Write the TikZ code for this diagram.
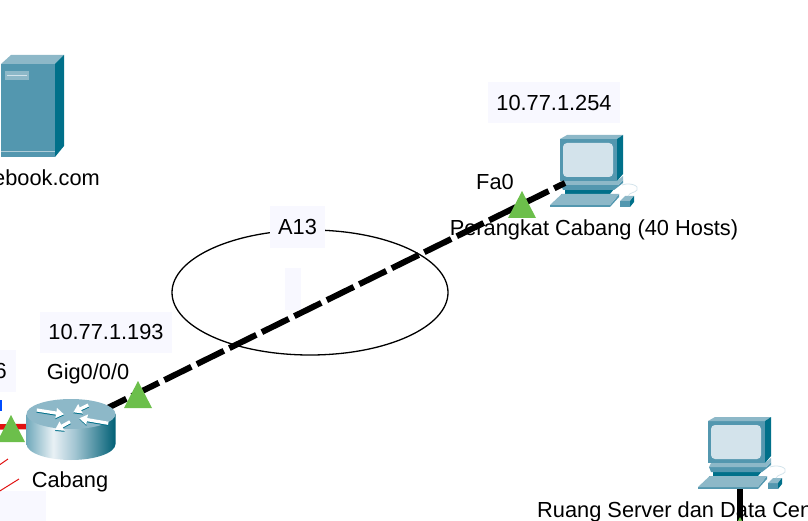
\documentclass[tikz,border=0pt]{standalone}
\usepackage{fontspec}
\setmainfont{Liberation Sans}
\usepackage{tikz}
\usetikzlibrary{calc, arrows.meta, shapes.geometric}

\definecolor{boxTint}{HTML}{F8F8FF}
\definecolor{linkGreen}{HTML}{6CBF4B}
\definecolor{linkRed}{HTML}{E01010}
\definecolor{caseMid}{HTML}{5397AF}
\definecolor{caseDark}{HTML}{00708A}
\definecolor{caseLight}{HTML}{8DB8C8}
\definecolor{screenTint}{HTML}{D3E3EB}

\pgfdeclarehorizontalshading{routerSide}{100bp}{
	color(0bp)=(caseLight!80!caseDark); color(25bp)=(caseLight!80!caseDark); color(40bp)=(screenTint!50!white);
	color(52bp)=(caseLight!80!white); color(75bp)=(caseDark!85!black); color(100bp)=(caseDark)}

\tikzset{
	devLabel/.style = {font = \fontsize{21.8}{24}\selectfont, inner sep = 0pt, text = black},
	ipBox/.style = {devLabel, fill = boxTint, minimum height = 41pt},
	ipLink/.style = {black, line width = 6pt, dash pattern = on 30pt off 6.2pt, dash phase = 4.5pt},
	plainLink/.style = {black, line width = 5.5pt},
	routerArrow/.style = {line width = 3.2pt, -{Triangle[length = 8pt, width = 10pt]}}
}

\begin{document}
\begin{tikzpicture}[x = 1pt, y = -1pt]
	\useasboundingbox (0,0) rectangle (808,521);

	\newcommand{\drawLinkLight}[2]
	{
		\fill [linkGreen] (#1,#2) -- ++(14,27) -- ++(-28,0) -- cycle;
	}

	% local origin is the top left corner of the monitor front
	\newcommand{\drawComputer}[2]
	{
		\begin{scope}[shift = {(#1,#2)}]
			\fill [caseDark] (5,50) -- (54,50) -- (50,55) -- (5,55) -- cycle;
			\fill [caseMid] (1,46) -- (58,46) -- (63,41) -- (63,44) -- (54,51) -- (3,51) -- cycle;
			\fill [caseLight] (1,46) -- (3,42) -- (57,42) -- (63,37) -- (63,41) -- (58,46) -- cycle;
			\fill [caseDark] (1,55) rectangle (50,56);
			\fill [caseMid] (-10,66) rectangle (50,68);
			\fill [caseMid] (50,68) -- (59,58) -- (59,55) -- (50,66) -- cycle;
			\fill [caseLight] (-10,66) -- (1.7,55) -- (59,55) -- (50,66) -- cycle;
			\fill [caseMid] (60,62) rectangle (70,68);
			\fill [caseLight] (60,62) -- (65,57) -- (74,57) -- (70,62) -- cycle;
			\fill [caseDark] (70,62) -- (74,57) -- (74,63) -- (70,68) -- cycle;
			\draw [screenTint, line width = 0.8pt] (62,46) .. controls (70,43) and (80,47) .. (77,51) .. controls (75,54) and (70,53) .. (68,57);
			\fill [caseMid] (0,0) rectangle (57,42);
			\fill [caseLight] (0,0) -- (7,-4) -- (63,-4) -- (57,0) -- cycle;
			\fill [caseDark] (57,0) -- (63,-4) -- (63,35) -- (57,42) -- cycle;
			\fill [screenTint, rounded corners = 4pt] (3,4) rectangle (53,38);
		\end{scope}
	}

	\begin{scope}
		\coordinate (cabang) at (71,426);
		\coordinate (perangkat) at (565,183);
		\coordinate (serverRoom) at (740,472);
		\coordinate (serverRoomEnd) at (740,530);
		\coordinate (redWest) at (-5,427);
		\coordinate (redA) at (-5,468);
		\coordinate (redB) at (8,459);
		\coordinate (redC) at (-5,494);
		\coordinate (redD) at (19,479);
	\end{scope}

	% shaded boxes
	\fill [boxTint] (0,350) rectangle (16,392);
	\fill [boxTint] (285,268) rectangle (301,310);
	\fill [boxTint] (0,491) rectangle (46,521);
	\fill [blue!70!cyan] (0,400) rectangle (1.5,411);

	\node [draw, black, line width = 1.3pt, ellipse, minimum width = 276pt, minimum height = 125pt, inner sep = 0pt] (areaLink) at (310,292.5) {};

	% server
	\begin{scope}
		\fill [caseMid] (1,64) rectangle (55,157);
		\fill [caseLight] (1,64) -- (11,55) -- (64,55) -- (55,64) -- cycle;
		\fill [caseDark] (55,64) -- (64,55) -- (64,146) -- (55,157) -- cycle;
		\fill [caseLight] (5,71) rectangle (29,80);
		\draw [caseLight!70!white, line width = 0.5pt] (1,151) -- (55,151);
		\draw [screenTint, line width = 0.5pt] (7,75) -- (27,75);
	\end{scope}

	\drawComputer{560}{139}

	% links
	\draw [ipLink] (cabang) -- (perangkat);
	\draw [plainLink] (serverRoom) -- (serverRoomEnd);
	\draw [linkRed, line width = 5.5pt] (redWest) -- (cabang);
	\draw [linkRed, line width = 1pt] (redA) -- (redB);
	\draw [linkRed, line width = 1pt] (redC) -- (redD);
	\drawLinkLight{138}{381}
	\drawLinkLight{522}{191}
	\drawLinkLight{11}{415}
	\drawLinkLight{740}{517}

	% router
	\begin{scope}[shift = {(cabang)}]
		\shade [shading = routerSide] (-44.5,-12) -- (-44.5,18) arc [start angle = 180, end angle = 0, x radius = 44.5, y radius = 16] -- (44.5,-12) -- cycle;
		\fill [caseLight] (0,-12) ellipse [x radius = 44.5, y radius = 15];
		\foreach \sx/\sy/\ex/\ey in {-34.3/-16/-7/-11.7, 17.3/-21/2.3/-13.7, -1/-4.3/-16/4, 37.3/-2.7/8.3/-7.7}
		{
			\draw [routerArrow, caseDark] (\sx,\sy+1) -- (\ex,\ey+1);
			\draw [routerArrow, white] (\sx,\sy) -- (\ex,\ey);
		}
	\end{scope}

	\drawComputer{708}{421}

	% labels
	\node [ipBox, minimum width = 132pt] (ipPerangkat) at (554,102.5) {10.77.1.254};
	\node [ipBox, minimum width = 132pt] (ipCabang) at (106,332) {10.77.1.193};
	\node [ipBox, minimum width = 55pt, minimum height = 42pt] (nameArea) at (297.5,227) {A13};
	\node [devLabel] (portCabang) at (88,374) {Gig0/0/0};
	\node [devLabel] (portPerangkat) at (495,182) {Fa0};
	\node [devLabel] (nameCabang) at (70,482) {Cabang};
	\node [devLabel] (namePerangkat) at (594,230) {Perangkat Cabang (40 Hosts)};
	\node [devLabel, anchor = east] (nameServer) at (100,178) {ebook.com};
	\node [devLabel, anchor = east] (ipClipped) at (7,371) {6};
	\node [devLabel, anchor = west] (nameRoom) at (537,512) {Ruang Server dan Data Cen};
\end{tikzpicture}
\end{document}
